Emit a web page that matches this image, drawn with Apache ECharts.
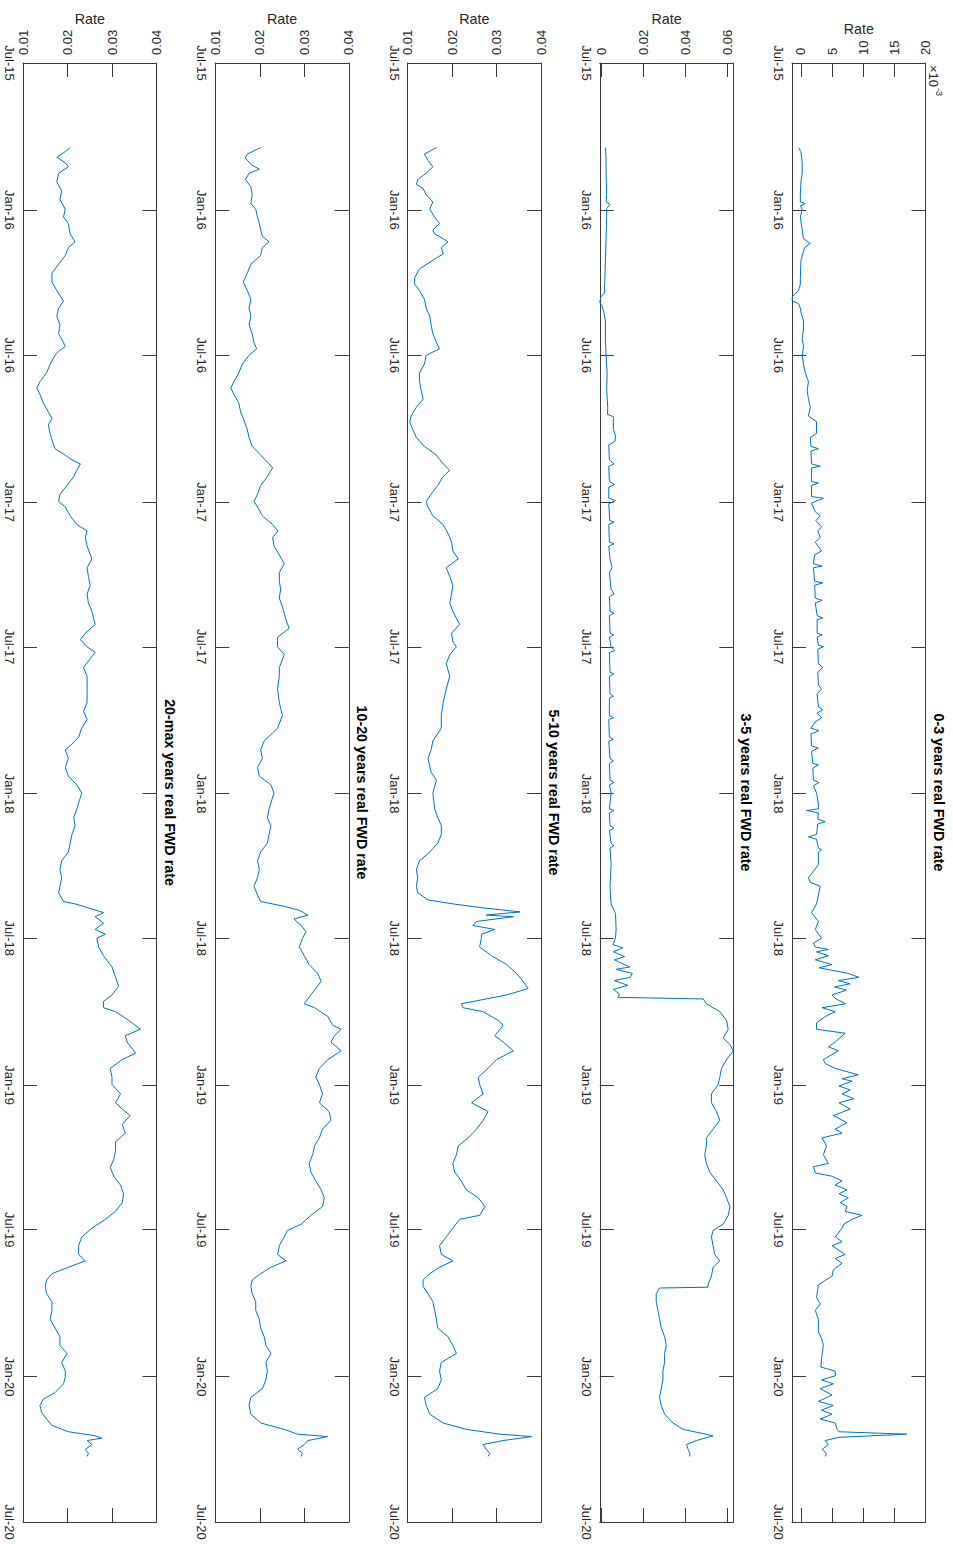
<!DOCTYPE html>
<html>
<head>
<meta charset="utf-8">
<script src="https://cdn.jsdelivr.net/npm/echarts@6/dist/echarts.min.js"></script>
<style>
html,body{margin:0;padding:0;background:#fff;}
#chart{width:953px;height:1544px;}
</style>
</head>
<body>
<div id="chart"></div>
<script>
// ---------------- data ----------------
// observation dates, as days counted from baseDate
const baseDate = '2015-07-01';

const days0to3 = [
106,111,125,138,149,165,174,176,179,183,193,209,220,226,231,236,247,269,277,285,
290,293,298,301,307,312,323,334,345,355,366,377,388,399,410,421,431,442,449,464,
469,480,483,486,502,505,507,524,526,529,543,545,551,562,567,573,581,586,594,600,
611,616,627,630,632,649,651,654,670,673,676,692,695,697,714,716,719,729,731,734,
752,757,763,779,784,790,806,810,814,820,825,833,836,840,855,858,862,877,879,883,
898,901,905,914,
928,934,936,939,947,950,953,966,969,972,983,985,988,1004,1020,1026,1031,1042,1053,1064,
1075,1085,1096,1102,1107,1110,1113,1118,1123,1129,1133,1140,1145,1149,1153,1157,1161,1167,1172,1178,
1183,1188,1194,1202,1210,1215,1226,1232,1237,1248,1253,1259,1267,1272,1275,1281,1286,1291,1297,1302,
1310,1318,1327,1335,1340,1346,1356,1367,1378,1382,1390,1394,1400,1405,1411,1416,1421,1427,1432,1438,
1443,1448,1454,1459,1470,1476,1481,1492,1497,1503,1511,1519,1530,1546,1554,1562,1573,1589,1597,1606,
1622,1633,1638,1644,1649,1654,1660,1668,1676,1681,1687,1692,1698,1703,1711,1714,1717,1721,1725,1730,
1736,1741,1745
];
const rate0to3 = [
-0.0004,0.0000,0.0002,0.0002,0.0000,-0.0001,-0.0001,0.0007,-0.0001,0.0002,-0.0001,0.0002,0.0004,0.0015,0.0006,0.0004,0.0000,-0.0001,-0.0001,-0.0004,
-0.0011,-0.0014,-0.0014,-0.0004,-0.0001,0.0000,0.0004,0.0004,0.0002,0.0004,0.0002,0.0004,0.0007,0.0012,0.0010,0.0012,0.0015,0.0012,0.0025,0.0025,
0.0015,0.0016,0.0028,0.0016,0.0017,0.0031,0.0017,0.0017,0.0028,0.0017,0.0017,0.0036,0.0017,0.0023,0.0031,0.0024,0.0033,0.0027,0.0031,0.0023,
0.0033,0.0022,0.0020,0.0034,0.0020,0.0022,0.0035,0.0022,0.0023,0.0034,0.0023,0.0026,0.0035,0.0026,0.0026,0.0034,0.0026,0.0028,0.0036,0.0027,
0.0028,0.0035,0.0027,0.0028,0.0033,0.0026,0.0028,0.0035,0.0026,0.0033,0.0023,0.0016,0.0029,0.0016,0.0017,0.0028,0.0017,0.0019,0.0028,0.0019,
0.0020,0.0029,0.0020,0.0025,
0.0028,0.0028,0.0009,0.0028,0.0027,0.0039,0.0027,0.0025,0.0012,0.0025,0.0028,0.0033,0.0028,0.0028,0.0012,0.0015,0.0031,0.0028,0.0025,0.0017,
0.0028,0.0023,0.0033,0.0020,0.0023,0.0044,0.0025,0.0044,0.0023,0.0050,0.0029,0.0076,0.0093,0.0060,0.0079,0.0054,0.0073,0.0050,0.0056,0.0072,
0.0034,0.0055,0.0039,0.0025,0.0025,0.0071,0.0055,0.0044,0.0060,0.0036,0.0039,0.0055,0.0092,0.0066,0.0082,0.0061,0.0079,0.0066,0.0085,0.0061,
0.0079,0.0052,0.0074,0.0055,0.0066,0.0034,0.0041,0.0036,0.0044,0.0020,0.0023,0.0050,0.0066,0.0055,0.0074,0.0061,0.0076,0.0063,0.0074,0.0071,
0.0098,0.0082,0.0069,0.0066,0.0055,0.0066,0.0050,0.0071,0.0055,0.0066,0.0052,0.0050,0.0028,0.0025,0.0031,0.0023,0.0028,0.0028,0.0033,0.0036,
0.0033,0.0032,0.0055,0.0055,0.0033,0.0052,0.0031,0.0050,0.0028,0.0052,0.0033,0.0050,0.0031,0.0055,0.0058,0.0061,0.0170,0.0061,0.0039,0.0044,
0.0034,0.0041,0.0039
];

const days3to5 = [
106,117,138,165,174,177,182,193,220,247,274,288,293,300,304,312,323,345,366,388,
410,431,440,443,459,467,474,478,497,502,505,524,528,531,545,548,552,573,575,578,
600,602,605,621,632,638,659,665,668,687,689,692,714,716,719,731,736,738,763,765,
768,790,793,795,817,820,822,844,847,849,871,874,877,898,901,904,914,
934,936,939,955,958,961,977,980,983,1004,1031,1053,1065,1085,1096,1104,1108,1113,1119,1123,
1132,1135,1140,1145,1149,1155,1160,1166,1170,1172,1178,1188,1199,1210,1221,1229,1237,1248,1259,1270,
1279,1291,1302,1313,1324,1335,1346,1356,1367,1378,1389,1400,1411,1421,1432,1443,1454,1462,1470,1481,
1492,1500,1508,1519,1530,1533,1534,1541,1551,1562,1573,1584,1595,1606,1616,1627,1638,1649,1660,1671,
1681,1692,1703,1711,1719,1725,1730,1736,1741,1745
];
const rate3to5 = [
0.0019,0.0022,0.0022,0.0025,0.0022,0.0041,0.0025,0.0025,0.0022,0.0019,0.0016,0.0014,-0.0003,-0.0008,0.0003,0.0011,0.0019,0.0019,0.0022,0.0027,
0.0025,0.0030,0.0029,0.0057,0.0057,0.0067,0.0064,0.0035,0.0038,0.0060,0.0035,0.0038,0.0062,0.0035,0.0035,0.0067,0.0035,0.0040,0.0060,0.0035,
0.0038,0.0060,0.0035,0.0041,0.0051,0.0038,0.0046,0.0060,0.0038,0.0041,0.0060,0.0038,0.0041,0.0059,0.0038,0.0046,0.0064,0.0038,0.0041,0.0059,
0.0038,0.0041,0.0057,0.0038,0.0038,0.0057,0.0035,0.0038,0.0057,0.0035,0.0041,0.0057,0.0038,0.0041,0.0060,0.0038,0.0046,
0.0038,0.0060,0.0038,0.0041,0.0060,0.0038,0.0046,0.0060,0.0041,0.0046,0.0041,0.0046,0.0067,0.0070,0.0067,0.0054,0.0102,0.0057,0.0110,0.0062,
0.0134,0.0070,0.0147,0.0137,0.0062,0.0126,0.0057,0.0086,0.0078,0.0485,0.0500,0.0564,0.0596,0.0604,0.0580,0.0612,0.0628,0.0596,0.0572,0.0564,
0.0556,0.0524,0.0524,0.0548,0.0564,0.0532,0.0500,0.0500,0.0492,0.0500,0.0516,0.0548,0.0580,0.0596,0.0612,0.0604,0.0580,0.0532,0.0524,0.0532,
0.0540,0.0564,0.0532,0.0524,0.0508,0.0508,0.0277,0.0261,0.0261,0.0269,0.0277,0.0285,0.0301,0.0309,0.0301,0.0301,0.0293,0.0293,0.0285,0.0277,
0.0285,0.0301,0.0341,0.0389,0.0532,0.0453,0.0405,0.0413,0.0421,0.0421
];

const days5to10 = [
106,114,122,130,138,146,152,157,165,174,183,193,201,209,214,220,224,231,239,247,
258,269,277,285,296,307,317,328,339,350,358,366,377,388,399,410,421,431,442,450,
459,469,480,491,502,510,518,529,540,549,556,567,578,589,600,611,621,632,643,654,
665,676,687,703,714,725,731,741,752,768,784,801,817,833,849,860,871,888,898,914,
934,945,955,966,977,988,999,1010,1020,1031,1039,1048,1053,1058,1063,1067,1069,1075,1080,1085,
1091,1096,1107,1118,1129,1140,1150,1159,1167,1172,1178,1183,1188,1194,1199,1205,1210,1218,1226,1237,
1248,1259,1270,1279,1291,1302,1313,1324,1335,1346,1356,1367,1378,1389,1400,1411,1421,1432,1443,1448,
1459,1470,1481,1492,1500,1508,1516,1524,1532,1541,1551,1562,1573,1584,1595,1606,1616,1627,1638,1649,
1660,1671,1681,1692,1703,1711,1717,1720,1725,1730,1736,1741,1745
];
const rate5to10 = [
0.0165,0.0138,0.0146,0.0157,0.0142,0.0123,0.0120,0.0135,0.0142,0.0157,0.0150,0.0161,0.0172,0.0157,0.0161,0.0180,0.0191,0.0176,0.0180,0.0157,
0.0127,0.0116,0.0116,0.0127,0.0138,0.0142,0.0150,0.0153,0.0157,0.0165,0.0172,0.0142,0.0138,0.0127,0.0127,0.0131,0.0135,0.0120,0.0108,0.0105,
0.0112,0.0120,0.0138,0.0165,0.0180,0.0195,0.0180,0.0168,0.0153,0.0142,0.0146,0.0157,0.0180,0.0191,0.0199,0.0202,0.0214,0.0187,0.0195,0.0202,
0.0199,0.0195,0.0202,0.0217,0.0199,0.0202,0.0210,0.0195,0.0187,0.0195,0.0187,0.0180,0.0176,0.0176,0.0157,0.0153,0.0146,0.0153,0.0165,0.0157,
0.0161,0.0168,0.0176,0.0176,0.0168,0.0150,0.0127,0.0120,0.0123,0.0120,0.0123,0.0146,0.0202,0.0270,0.0353,0.0277,0.0338,0.0255,0.0247,0.0296,
0.0266,0.0266,0.0262,0.0289,0.0323,0.0345,0.0360,0.0371,0.0323,0.0277,0.0221,0.0225,0.0270,0.0289,0.0304,0.0315,0.0308,0.0296,0.0315,0.0338,
0.0300,0.0281,0.0259,0.0262,0.0270,0.0244,0.0281,0.0270,0.0255,0.0236,0.0214,0.0210,0.0202,0.0206,0.0221,0.0232,0.0259,0.0274,0.0262,0.0217,
0.0202,0.0187,0.0172,0.0176,0.0202,0.0172,0.0150,0.0135,0.0135,0.0146,0.0157,0.0161,0.0165,0.0168,0.0191,0.0202,0.0210,0.0176,0.0172,0.0176,
0.0168,0.0138,0.0142,0.0150,0.0180,0.0232,0.0308,0.0379,0.0315,0.0270,0.0277,0.0285,0.0281
];

const days10to20 = [
106,114,119,127,133,138,146,155,165,176,183,193,201,209,217,224,231,241,252,263,
274,285,296,307,317,328,339,350,358,366,377,388,399,407,415,426,437,448,459,469,
480,491,502,507,518,529,540,549,556,567,578,586,594,605,616,627,638,649,659,670,
681,697,708,719,731,741,757,768,784,801,817,833,849,860,871,882,893,904,914,
934,945,955,966,977,988,999,1010,1020,1031,1042,1050,1056,1061,1067,1072,1080,1088,1096,1107,
1118,1129,1140,1150,1161,1172,1178,1183,1194,1205,1210,1218,1226,1237,1248,1259,1270,1279,1291,1302,
1313,1324,1335,1346,1356,1367,1378,1389,1400,1411,1421,1432,1443,1454,1462,1470,1481,1492,1500,1508,
1516,1524,1532,1541,1551,1562,1573,1584,1595,1606,1616,1627,1638,1649,1660,1671,1681,1692,1703,1711,
1717,1720,1725,1730,1736,1741,1745
];
const rate10to20 = [
0.0202,0.0172,0.0168,0.0180,0.0199,0.0176,0.0168,0.0180,0.0183,0.0180,0.0191,0.0195,0.0199,0.0202,0.0206,0.0221,0.0206,0.0202,0.0180,0.0172,
0.0163,0.0172,0.0180,0.0176,0.0180,0.0176,0.0183,0.0187,0.0193,0.0176,0.0161,0.0153,0.0142,0.0135,0.0142,0.0153,0.0157,0.0165,0.0172,0.0176,
0.0183,0.0202,0.0221,0.0229,0.0217,0.0202,0.0195,0.0187,0.0195,0.0206,0.0229,0.0241,0.0229,0.0232,0.0244,0.0255,0.0244,0.0244,0.0247,0.0244,
0.0251,0.0259,0.0266,0.0240,0.0240,0.0255,0.0244,0.0244,0.0240,0.0244,0.0251,0.0240,0.0210,0.0202,0.0206,0.0195,0.0199,0.0225,0.0232,
0.0221,0.0217,0.0225,0.0221,0.0217,0.0202,0.0195,0.0199,0.0195,0.0187,0.0195,0.0202,0.0255,0.0289,0.0308,0.0277,0.0293,0.0304,0.0296,0.0289,
0.0300,0.0311,0.0330,0.0338,0.0323,0.0308,0.0300,0.0323,0.0353,0.0364,0.0383,0.0368,0.0360,0.0383,0.0353,0.0334,0.0326,0.0334,0.0341,0.0334,
0.0356,0.0360,0.0341,0.0334,0.0323,0.0319,0.0311,0.0315,0.0326,0.0338,0.0345,0.0341,0.0315,0.0293,0.0262,0.0255,0.0244,0.0240,0.0259,0.0225,
0.0202,0.0183,0.0180,0.0183,0.0191,0.0191,0.0199,0.0202,0.0210,0.0214,0.0225,0.0214,0.0217,0.0214,0.0206,0.0180,0.0176,0.0180,0.0202,0.0255,
0.0285,0.0353,0.0308,0.0300,0.0285,0.0296,0.0293
];

const days20toMax = [
106,111,118,125,130,138,149,160,171,183,193,201,214,224,231,241,252,263,274,285,
298,307,317,328,339,350,355,361,366,377,388,399,407,415,426,437,445,453,464,472,
483,491,497,502,510,518,529,540,549,556,567,578,586,594,605,621,632,643,654,665,
676,687,703,714,722,731,738,746,757,768,784,801,812,822,833,844,855,860,871,882,
893,904,914,
934,945,955,966,977,988,999,1010,1020,1031,1039,1050,1053,1058,1064,1069,1077,1085,1091,1096,
1107,1118,1132,1145,1156,1167,1175,1183,1188,1199,1210,1218,1226,1240,1248,1259,1270,1279,1291,1302,
1310,1318,1329,1340,1351,1362,1373,1383,1394,1405,1416,1427,1438,1448,1459,1470,1481,1492,1500,1508,
1516,1524,1532,1541,1551,1562,1573,1584,1595,1606,1616,1627,1638,1645,1654,1665,1673,1681,1690,1698,
1706,1714,1719,1722,1725,1730,1736,1741,1745
];
const rate20toMax = [
0.0206,0.0195,0.0176,0.0195,0.0202,0.0180,0.0176,0.0187,0.0183,0.0195,0.0191,0.0202,0.0206,0.0217,0.0202,0.0195,0.0180,0.0165,0.0165,0.0176,
0.0191,0.0180,0.0176,0.0183,0.0180,0.0191,0.0195,0.0180,0.0172,0.0161,0.0153,0.0138,0.0131,0.0138,0.0146,0.0157,0.0165,0.0157,0.0161,0.0165,
0.0172,0.0195,0.0210,0.0229,0.0221,0.0214,0.0199,0.0183,0.0180,0.0195,0.0206,0.0221,0.0244,0.0240,0.0244,0.0255,0.0244,0.0247,0.0251,0.0244,
0.0247,0.0255,0.0262,0.0240,0.0229,0.0244,0.0262,0.0251,0.0236,0.0244,0.0244,0.0244,0.0236,0.0244,0.0232,0.0225,0.0206,0.0195,0.0202,0.0195,
0.0202,0.0221,0.0232,
0.0221,0.0214,0.0217,0.0210,0.0206,0.0202,0.0187,0.0183,0.0187,0.0183,0.0180,0.0191,0.0217,0.0247,0.0281,0.0262,0.0281,0.0262,0.0285,0.0266,
0.0270,0.0281,0.0300,0.0308,0.0315,0.0300,0.0281,0.0281,0.0308,0.0338,0.0364,0.0330,0.0334,0.0353,0.0323,0.0296,0.0300,0.0300,0.0319,0.0308,
0.0323,0.0341,0.0323,0.0330,0.0308,0.0308,0.0304,0.0296,0.0304,0.0319,0.0326,0.0323,0.0308,0.0285,0.0255,0.0232,0.0225,0.0225,0.0240,0.0202,
0.0165,0.0153,0.0150,0.0153,0.0165,0.0165,0.0161,0.0172,0.0183,0.0183,0.0199,0.0187,0.0195,0.0195,0.0191,0.0172,0.0146,0.0138,0.0142,0.0153,
0.0165,0.0202,0.0262,0.0277,0.0244,0.0255,0.0240,0.0247,0.0244
];

const panelTitles = ['20-max years real FWD rate','10-20 years real FWD rate','5-10 years real FWD rate','3-5 years real FWD rate','0-3 years real FWD rate'];
const timeTicks = ['2015-07-01','2016-01-01','2016-07-01','2017-01-01','2017-07-01','2018-01-01','2018-07-01','2019-01-01','2019-07-01','2020-01-01','2020-07-01'];
const timeTickLabels = ['Jul-15','Jan-16','Jul-16','Jan-17','Jul-17','Jan-18','Jul-18','Jan-19','Jul-19','Jan-20','Jul-20'];
const ticks0to3 = [0, 0.005, 0.01, 0.015, 0.02];
const tickLabels0to3 = ['0','5','10','15','20'];
const ticks3to5 = [0, 0.02, 0.04, 0.06];
const tickLabels3to5 = ['0','0.02','0.04','0.06'];
const ticksLong = [0.01, 0.02, 0.03, 0.04];
const tickLabelsLong = ['0.01','0.02','0.03','0.04'];

// ---------------- chart ----------------
const FONT = "'Liberation Sans', Arial, Helvetica, sans-serif";
const TXT = '#262626';
const AXC = '#3a3a3a';
const DAY = 86400000;
const tp = s => +echarts.time.parse(s);
const tBase = tp(baseDate);
const timeTickTs = timeTicks.map(tp);
const tMin = timeTickTs[0], tMax = timeTickTs[timeTickTs.length - 1];

const panels = [
  {title: panelTitles[0], days: days20toMax, vals: rate20toMax, min: 0.01, max: 0.04, ticks: ticksLong, labels: tickLabelsLong, rateGap: 37},
  {title: panelTitles[1], days: days10to20, vals: rate10to20, min: 0.01, max: 0.04, ticks: ticksLong, labels: tickLabelsLong, rateGap: 37},
  {title: panelTitles[2], days: days5to10, vals: rate5to10, min: 0.01, max: 0.04, ticks: ticksLong, labels: tickLabelsLong, rateGap: 37},
  {title: panelTitles[3], days: days3to5, vals: rate3to5, min: -0.0008, max: 0.0628, ticks: ticks3to5, labels: tickLabels3to5, rateGap: 37},
  {title: panelTitles[4], days: days0to3, vals: rate0to3, min: -0.00144, max: 0.02, ticks: ticks0to3, labels: tickLabels0to3, rateGap: 27}
];
const lefts = [23, 215.25, 407.5, 599.75, 792];
const GW = 133.5, GT = 63, GH = 1459;

const grid = [], xAxis = [], yAxis = [], series = [];
const lineStyle = {color: AXC, width: 1};
panels.forEach((p, i) => {
  grid.push({left: lefts[i], top: GT, width: GW, height: GH, containLabel: false});
  const fmtX = v => { const k = p.ticks.findIndex(t => Math.abs(t - v) < 1e-9); return k >= 0 ? p.labels[k] : ''; };
  const fmtT = v => { const k = timeTickTs.findIndex(t => Math.abs(t - v) < 1000); return k >= 0 ? timeTickLabels[k] : ''; };
  const xBase = {
    gridIndex: i, type: 'value', min: p.min, max: p.max,
    axisLine: {show: true, onZero: false, lineStyle},
    axisTick: {show: true, inside: true, length: 14, customValues: p.ticks, lineStyle},
    splitLine: {show: false}
  };
  xAxis.push(Object.assign({}, xBase, {
    position: 'top',
    axisLabel: {show: true, customValues: p.ticks, rotate: -90, margin: 8, formatter: fmtX,
      fontFamily: FONT, fontSize: 13, color: TXT},
    name: 'Rate', nameLocation: 'middle', nameGap: p.rateGap, nameMoveOverlap: false,
    nameTextStyle: {fontFamily: FONT, fontSize: 14.3, color: TXT}
  }));
  xAxis.push(Object.assign({}, xBase, {position: 'bottom', axisLabel: {show: false}}));
  const yBase = {
    gridIndex: i, type: 'value', inverse: true, min: tMin, max: tMax,
    axisLine: {show: true, onZero: false, lineStyle},
    axisTick: {show: true, inside: true, length: 14, customValues: timeTickTs, lineStyle},
    splitLine: {show: false}
  };
  yAxis.push(Object.assign({}, yBase, {
    position: 'left',
    axisLabel: {show: true, customValues: timeTickTs, rotate: -90, margin: 7, formatter: fmtT,
      fontFamily: FONT, fontSize: 13, color: TXT}
  }));
  yAxis.push(Object.assign({}, yBase, {
    position: 'right', axisLabel: {show: false},
    name: p.title, nameLocation: 'middle', nameRotate: -90, nameGap: 6, nameMoveOverlap: false,
    nameTextStyle: {fontFamily: FONT, fontSize: 14.3, fontWeight: 'bold', color: '#000'}
  }));
  const n = Math.min(p.days.length, p.vals.length);
  const data = [];
  for (let j = 0; j < n; j++) data.push([p.vals[j], tBase + p.days[j] * DAY]);
  series.push({
    type: 'line', xAxisIndex: 2 * i, yAxisIndex: 2 * i,
    data, showSymbol: false, symbol: 'none', smooth: false,
    lineStyle: {color: '#0072BD', width: 1},
    emphasis: {disabled: true}, animation: false
  });
});

const chart = echarts.init(document.getElementById('chart'), null, {renderer: 'svg'});
chart.setOption({
  animation: false,
  backgroundColor: '#fff',
  grid, xAxis, yAxis, series,
  graphic: [
    {type: 'text', x: 927, y: 65, rotation: -Math.PI / 2,
     style: {text: '×10', font: "13px 'Liberation Sans', Arial, sans-serif", fill: TXT, align: 'left', verticalAlign: 'bottom'}},
    {type: 'text', x: 934, y: 88, rotation: -Math.PI / 2,
     style: {text: '-3', font: "9px 'Liberation Sans', Arial, sans-serif", fill: TXT, align: 'left', verticalAlign: 'bottom'}}
  ]
});
</script>
</body>
</html>
